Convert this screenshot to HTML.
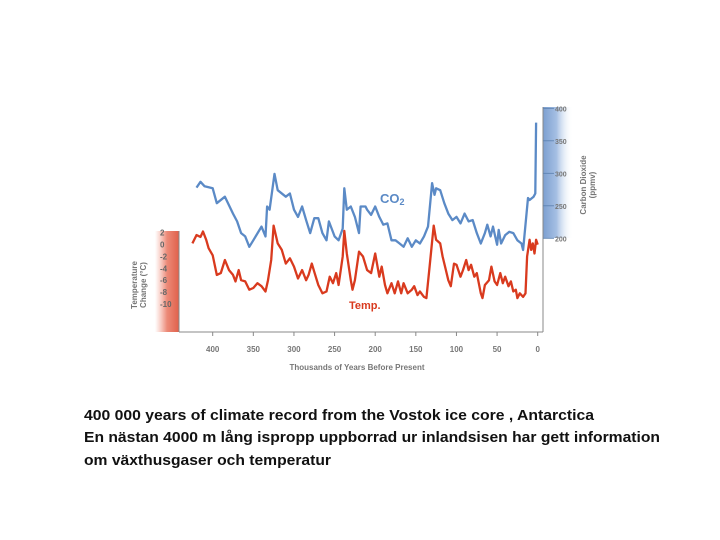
<!DOCTYPE html>
<html><head><meta charset="utf-8"><style>
html,body{margin:0;padding:0;background:#fff;width:720px;height:540px;overflow:hidden}
svg{display:block;font-family:"Liberation Sans",sans-serif}
</style></head><body>
<svg id="chart" width="720" height="540" viewBox="0 0 720 540">
<defs>
<linearGradient id="redg" x1="0" x2="1" y1="0" y2="0"><stop offset="0" stop-color="#f4a090" stop-opacity="0"/><stop offset="0.5" stop-color="#ec8a78"/><stop offset="1" stop-color="#e0604a"/></linearGradient>
<linearGradient id="blueg" x1="0" x2="1" y1="0" y2="0"><stop offset="0" stop-color="#7c9fd0"/><stop offset="0.45" stop-color="#a5bfe3"/><stop offset="1" stop-color="#ffffff" stop-opacity="0"/></linearGradient>
</defs>
<rect x="155" y="231" width="24" height="101" fill="url(#redg)"/>
<rect x="543" y="107" width="30" height="131" fill="url(#blueg)"/>
<g id="axes" stroke="#888" stroke-width="1" fill="none">
<line x1="179" y1="332" x2="543" y2="332"/>
<line x1="179" y1="231" x2="179" y2="332"/>
<line x1="543" y1="107" x2="543" y2="332"/>
</g>
<g id="ticks"></g>
<g id="series"></g>
<text x="380" y="203" font-size="13" font-weight="bold" fill="#5b8ac6">CO<tspan font-size="9" dy="2">2</tspan></text>
<text x="349" y="309" font-size="11" font-weight="bold" fill="#d93a1e">Temp.</text>
<text transform="translate(137,285) rotate(-90)" text-anchor="middle" font-size="8" font-weight="bold" fill="#777"><tspan x="0" dy="0">Temperature</tspan><tspan x="0" dy="9">Change (°C)</tspan></text>
<text transform="translate(586,185) rotate(-90)" text-anchor="middle" font-size="8" font-weight="bold" fill="#777"><tspan x="0" dy="0">Carbon Dioxide</tspan><tspan x="0" dy="9">(ppmv)</tspan></text>
<text x="357" y="370" text-anchor="middle" font-size="8" font-weight="bold" fill="#777">Thousands of Years Before Present</text>
<g font-size="15" font-weight="bold" fill="#111">
<text x="84" y="420" textLength="510" lengthAdjust="spacingAndGlyphs">400 000 years of climate record from the Vostok ice core , Antarctica</text>
<text x="84" y="442" textLength="576" lengthAdjust="spacingAndGlyphs">En nästan 4000 m lång ispropp uppborrad ur inlandsisen har gett information</text>
<text x="84" y="465" textLength="247" lengthAdjust="spacingAndGlyphs">om växthusgaser och temperatur</text>
</g>
</svg>
<script>
const xTicks=[400,350,300,250,200,150,100,50,0];
const co2Ticks=[400,350,300,250,200];
const tempTicks=[2,0,-2,-4,-6,-8,-10];
const co2Years=[420,415,410,400,395,385,375,370,365,360,355,350,340,335,333,330,324,320,310,305,300,295,290,285,280,275,270,265,260,257,250,245,240,238,235,230,225,220,218,212,210,205,200,195,190,185,180,175,170,165,160,155,150,145,140,135,130,127,125,120,115,110,105,100,95,90,85,80,75,70,65,62,58,55,50,48,45,40,35,30,25,20,18,12,10,5,3,2];
const co2Values=[278,287,280,277,254,264,238,226,208,203,187,197,218,203,249,244,299,274,264,269,244,233,249,228,208,231,231,208,197,226,203,197,215,277,244,249,233,208,249,249,244,236,249,233,221,223,197,197,192,187,200,187,197,192,203,218,285,267,277,274,254,238,228,233,223,238,226,228,208,192,208,221,203,218,190,213,192,205,210,208,197,192,182,262,259,264,269,378];
const tempYears=[425,420,415,412,408,405,400,395,390,385,380,375,372,368,365,360,355,350,345,340,335,332,328,325,320,315,310,305,300,295,290,285,282,278,275,270,265,260,256,252,248,245,240,238,235,230,228,225,220,215,210,205,200,195,192,188,185,180,176,172,168,165,160,155,152,148,145,140,137,133,128,125,120,117,113,110,107,103,100,95,92,88,85,82,78,75,70,68,65,60,57,53,50,46,43,40,36,33,30,27,25,22,18,15,13,10,8,6,4,2,0];
const tempValues=[0.2,1.6,1.3,2.2,0.8,-0.6,-1.8,-5.1,-4.8,-2.6,-4.3,-5.1,-6.2,-4.3,-6,-6.2,-7.6,-7.3,-6.5,-7,-7.9,-6,-2.6,3.2,0.2,-0.9,-3.2,-2.3,-3.7,-5.7,-4.3,-6,-5.1,-3.2,-4.6,-6.8,-8.2,-7.9,-5.4,-6.5,-4.8,-6.8,-2,2.3,-1.5,-6,-7.6,-6,-1.2,-2,-4.3,-4.8,-1.5,-5.4,-3.7,-6.8,-8.2,-6.5,-8.2,-6.2,-8.2,-6.5,-8.2,-7.6,-7,-8.5,-7.9,-8.8,-9,-3.7,3.2,0.8,0.2,-2,-4.3,-6,-7,-3.2,-3.4,-5.4,-4.3,-2.6,-4.3,-3.4,-5.4,-4.8,-8.2,-9,-6.8,-6,-3.7,-6.2,-6.8,-4.8,-6.5,-5.4,-7,-6.2,-7.9,-7.6,-9,-8.2,-8.8,-8.2,-2,0.8,-0.9,0.2,-1.5,0.8,0];
const xS=t=>537.7-t*0.8125;
const co2S=v=>238.3-(v-200)*0.65;
const tempS=v=>244.6-v*5.94;
const NS='http://www.w3.org/2000/svg';
const tg=document.getElementById('ticks');
function mk(tag,attrs,parent){const e=document.createElementNS(NS,tag);for(const k in attrs)e.setAttribute(k,attrs[k]);parent.appendChild(e);return e;}
xTicks.forEach(t=>{
  const l=mk('line',{x1:xS(t),x2:xS(t),y1:332,y2:336,stroke:'#888'},tg);
  
  
  const tx=mk('text',{x:xS(t),y:352,'text-anchor':'middle','font-size':8,'font-weight':'bold',fill:'#777'},tg);
  tx.textContent=t;
  
  
});
co2Ticks.forEach(v=>{
  const l=mk('line',{x1:543,x2:554,y1:co2S(v),y2:co2S(v),stroke:'#5a7fae','stroke-width':0.8},tg);
  
  
  const tx=mk('text',{x:555,y:co2S(v)+3,'font-size':7,'font-weight':'bold',fill:'#777'},tg);
  tx.textContent=v;
  
  
});
tempTicks.forEach(v=>{
  const tx=mk('text',{x:160,y:tempS(v)+3,'font-size':8,'font-weight':'bold',fill:'#666'},tg);
  tx.textContent=v;
  
  
});
const sg=document.getElementById('series');
const co2Path=mk('polyline',{points:co2Years.map((t,i)=>xS(t).toFixed(1)+','+co2S(co2Values[i]).toFixed(1)).join(' '),fill:'none',stroke:'#5b8ac6','stroke-width':2.3,'stroke-linejoin':'round'},sg);


const tempPath=mk('polyline',{points:tempYears.map((t,i)=>xS(t).toFixed(1)+','+tempS(tempValues[i]).toFixed(1)).join(' '),fill:'none',stroke:'#d93a1e','stroke-width':2.3,'stroke-linejoin':'round'},sg);


</script>
</body></html>
